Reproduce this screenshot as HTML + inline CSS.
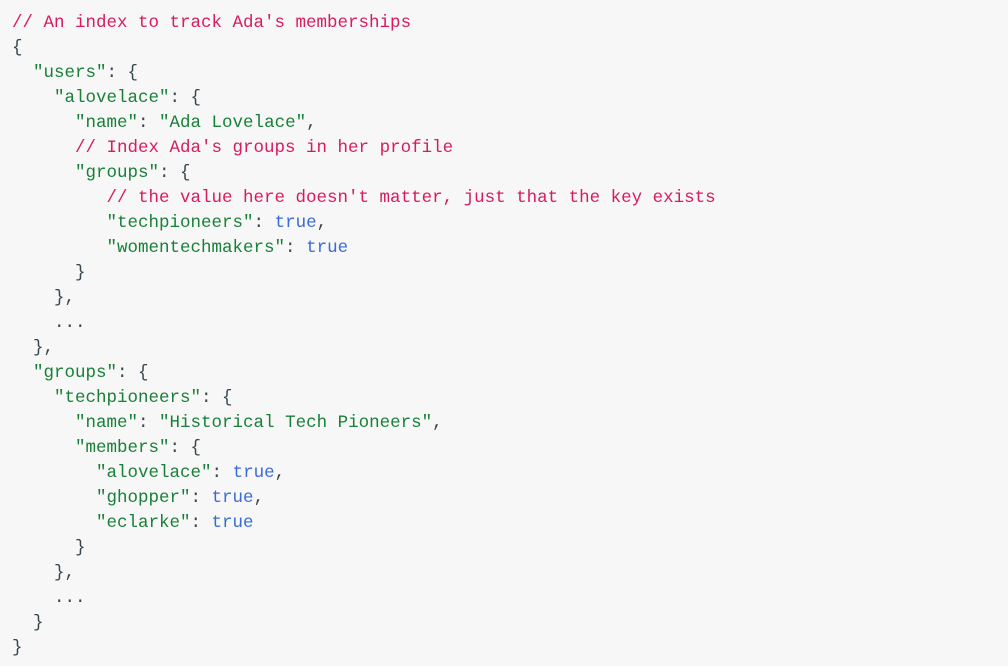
<!DOCTYPE html>
<html><head><style>
html,body{margin:0;padding:0;background:#fff;}
.box{position:absolute;left:0;top:0;width:1008px;height:666px;background:#f7f7f7;overflow:hidden;}
pre{margin:0;position:absolute;left:12px;top:11px;font-family:"Liberation Mono",monospace;font-size:17.5px;line-height:25px;color:#37474f;}
.c{color:#d81b60}.s{color:#188038}.b{color:#3a6bd6}
</style></head><body><div class="box"><pre><span class="c">// An index to track Ada's memberships</span>
{
  <span class="s">"users"</span>: {
    <span class="s">"alovelace"</span>: {
      <span class="s">"name"</span>: <span class="s">"Ada Lovelace"</span>,
      <span class="c">// Index Ada's groups in her profile</span>
      <span class="s">"groups"</span>: {
         <span class="c">// the value here doesn't matter, just that the key exists</span>
         <span class="s">"techpioneers"</span>: <span class="b">true</span>,
         <span class="s">"womentechmakers"</span>: <span class="b">true</span>
      }
    },
    ...
  },
  <span class="s">"groups"</span>: {
    <span class="s">"techpioneers"</span>: {
      <span class="s">"name"</span>: <span class="s">"Historical Tech Pioneers"</span>,
      <span class="s">"members"</span>: {
        <span class="s">"alovelace"</span>: <span class="b">true</span>,
        <span class="s">"ghopper"</span>: <span class="b">true</span>,
        <span class="s">"eclarke"</span>: <span class="b">true</span>
      }
    },
    ...
  }
}</pre></div></body></html>
